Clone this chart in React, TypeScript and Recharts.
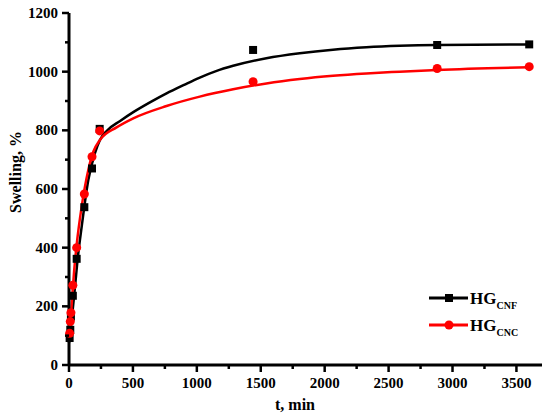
import {
  ComposedChart,
  Line,
  Scatter,
  XAxis,
  YAxis,
} from "recharts";

const FONT = "'Liberation Serif', 'Times New Roman', serif";

// measured points (t in min, swelling in %)
const cnfTime = [5, 10, 15, 30, 60, 120, 180, 240, 1440, 2880, 3600];
const cnfSwell = [92, 120, 165, 236, 362, 538, 670, 805, 1074, 1091, 1093];
const cncTime = [5, 10, 15, 30, 60, 120, 180, 240, 1440, 2880, 3600];
const cncSwell = [108, 148, 178, 272, 400, 583, 710, 798, 966, 1011, 1017];

// fitted curves
const cnfFitTime = [0, 20, 47, 70, 99, 151, 203, 242, 300, 400, 503, 640, 763, 900, 1023, 1150, 1284, 1544, 1805, 2065, 2326, 2586, 2880, 3600];
const cnfFitSwell = [75, 150, 267, 370, 471, 631, 722, 767, 800, 832, 862, 897, 926, 955, 980, 1002, 1020, 1046, 1063, 1075, 1083, 1088, 1091, 1093];
const cncFitTime = [0, 20, 40, 60, 99, 151, 190, 242, 372, 503, 763, 1023, 1284, 1544, 1805, 2065, 2326, 2586, 2880, 3600];
const cncFitSwell = [85, 200, 320, 410, 540, 665, 727, 767, 810, 841, 883, 915, 940, 960, 975, 986, 994, 1000, 1006, 1015];

const xTicks = [0, 250, 500, 750, 1000, 1250, 1500, 1750, 2000, 2250, 2500, 2750, 3000, 3250, 3500];
const yTicks = [0, 100, 200, 300, 400, 500, 600, 700, 800, 900, 1000, 1100, 1200];

const zip = (ts: number[], vs: number[]) => ts.map((t, i) => ({ t, v: vs[i] }));

const cnfPts = zip(cnfTime, cnfSwell);
const cncPts = zip(cncTime, cncSwell);
const cnfFit = zip(cnfFitTime, cnfFitSwell);
const cncFit = zip(cncFitTime, cncFitSwell);

const AXIS = { stroke: "#000", strokeWidth: 3 };
const TITLE = { fontFamily: FONT, fontWeight: "bold" as const, fontSize: 16, fill: "#000" };

function XTick(props: any) {
  const { x, y, payload } = props;
  const major = payload.value % 500 === 0;
  return (
    <g>
      <line x1={x} x2={x} y1={y} y2={y + (major ? 7 : 4)} stroke="#000" strokeWidth={2.5} />
      {major && (
        <text x={x} y={y + 23} textAnchor="middle" fontFamily={FONT} fontWeight="bold" fontSize={15} fill="#000">
          {payload.value}
        </text>
      )}
    </g>
  );
}

function YTick(props: any) {
  const { x, y, payload } = props;
  const major = payload.value % 200 === 0;
  return (
    <g>
      <line x1={x} x2={x - (major ? 7 : 4)} y1={y} y2={y} stroke="#000" strokeWidth={2.5} />
      {major && (
        <text x={x - 11} y={y + 5} textAnchor="end" fontFamily={FONT} fontWeight="bold" fontSize={15} fill="#000">
          {payload.value}
        </text>
      )}
    </g>
  );
}

function LegendBox() {
  return (
    <svg width={550} height={419} style={{ position: "absolute", left: 0, top: 0, pointerEvents: "none" }}>
      {/* CNF */}
      <line x1={429} x2={468} y1={298} y2={298} stroke="#000" strokeWidth={3} />
      <rect x={445} y={294} width={8} height={8} fill="#000" />
      <text x={470} y={304} fontFamily={FONT} fontWeight="bold" fontSize={17} fill="#000">
        HG<tspan fontSize={10} dy={5}>CNF</tspan>
      </text>
      {/* CNC */}
      <line x1={429} x2={468} y1={325} y2={325} stroke="#ff0000" strokeWidth={3} />
      <circle cx={449} cy={325} r={4.5} fill="#ff0000" />
      <text x={470} y={331} fontFamily={FONT} fontWeight="bold" fontSize={17} fill="#000">
        HG<tspan fontSize={10} dy={5}>CNC</tspan>
      </text>
    </svg>
  );
}

export default function App() {
  return (
    <div style={{ position: "absolute", left: 0, top: 0, width: 550, height: 419, background: "#fff" }}>
      <ComposedChart width={550} height={419} margin={{ top: 13, right: 8, left: 0, bottom: 0 }}>
        <XAxis
          dataKey="t"
          type="number"
          domain={[0, 3700]}
          ticks={xTicks}
          interval={0}
          height={54}
          tickSize={0}
          tickMargin={0}
          tickLine={false}
          axisLine={AXIS}
          tick={<XTick />}
          label={{
            content: () => (
              <text x={295} y={410} textAnchor="middle" {...TITLE}>
                t, min
              </text>
            ),
          }}
        />
        <XAxis
          xAxisId="top"
          orientation="top"
          type="number"
          domain={[0, 3700]}
          height={0}
          tick={false}
          tickLine={false}
          axisLine={AXIS}
        />
        <YAxis
          dataKey="v"
          type="number"
          domain={[0, 1200]}
          ticks={yTicks}
          interval={0}
          width={69}
          tickSize={0}
          tickMargin={0}
          tickLine={false}
          axisLine={AXIS}
          tick={<YTick />}
          label={{
            content: () => (
              <text x={20.5} y={172} textAnchor="middle" transform="rotate(-90 20.5 172)" {...TITLE}>
                Swelling, %
              </text>
            ),
          }}
        />
        <YAxis
          yAxisId="right"
          orientation="right"
          type="number"
          domain={[0, 1200]}
          width={0}
          tick={false}
          tickLine={false}
          axisLine={AXIS}
        />
        <Line
          data={cnfFit}
          dataKey="v"
          type="monotone"
          stroke="#000"
          strokeWidth={2.5}
          dot={false}
          isAnimationActive={false}
        />
        <Line
          data={cncFit}
          dataKey="v"
          type="monotone"
          stroke="#ff0000"
          strokeWidth={2.5}
          dot={false}
          isAnimationActive={false}
        />
        <Scatter data={cnfPts} dataKey="v" fill="#000" shape="square" isAnimationActive={false} />
        <Scatter data={cncPts} dataKey="v" fill="#ff0000" shape="circle" isAnimationActive={false} />
      </ComposedChart>
      <LegendBox />
    </div>
  );
}
